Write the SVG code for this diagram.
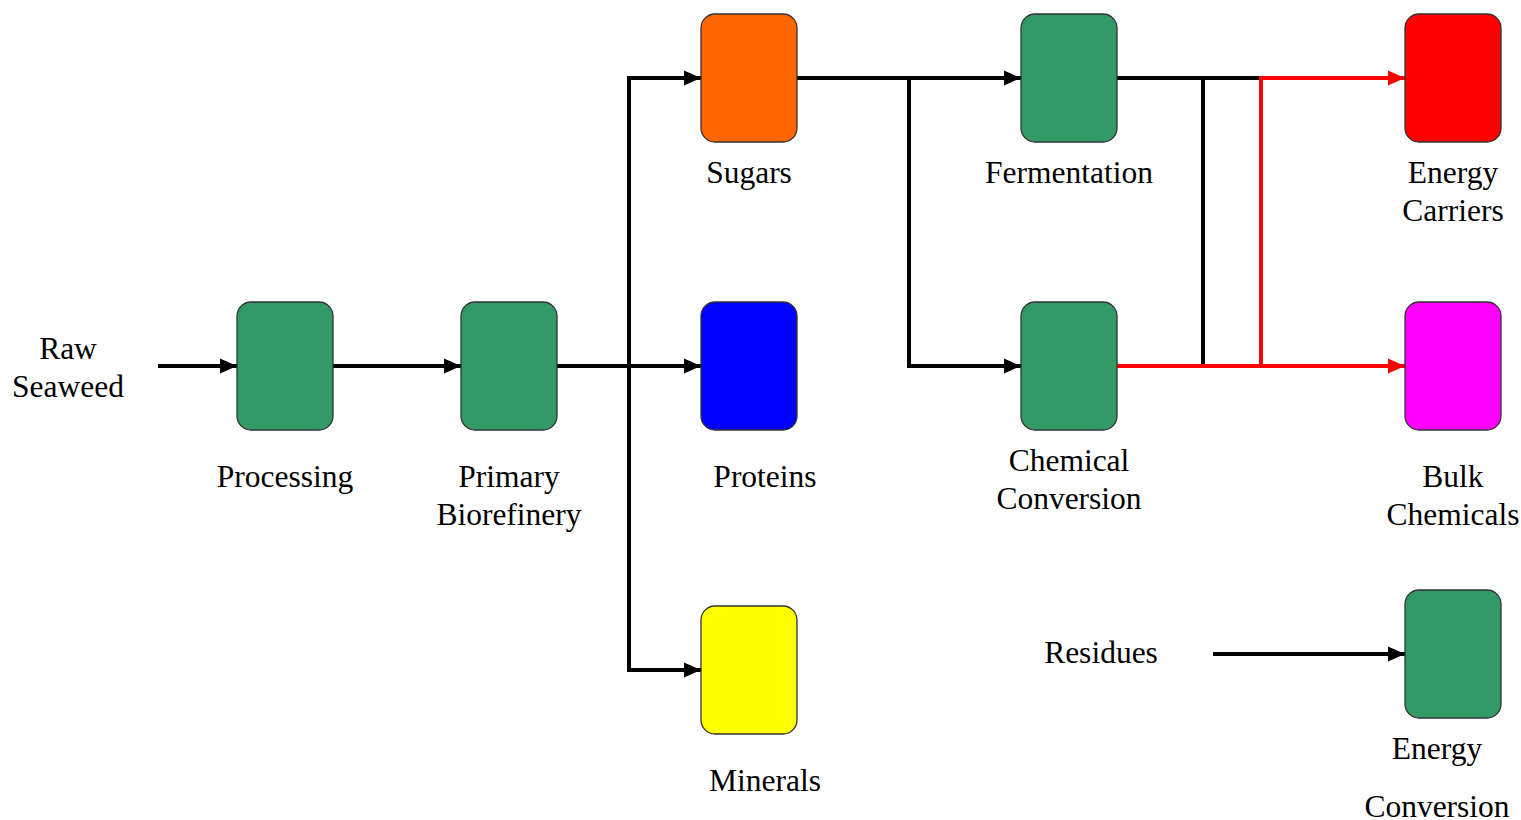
<svg xmlns="http://www.w3.org/2000/svg" width="1521" height="820" viewBox="0 0 1521 820">
<style>
.box{stroke:#333;stroke-width:1.3}
.ln{fill:none;stroke:#000;stroke-width:4}
.rd{fill:none;stroke:#FF0000;stroke-width:4}
text{font-family:"Liberation Serif","Times New Roman",serif;font-size:31.5px;fill:#000;text-anchor:middle}
</style>
<defs>
<marker id="ab" markerUnits="userSpaceOnUse" markerWidth="17" markerHeight="17" viewBox="0 0 17 17" refX="17" refY="8.5" orient="auto"><path d="M0,1 L17,8.5 L0,16 Z" fill="#000"/></marker>
<marker id="ar" markerUnits="userSpaceOnUse" markerWidth="17" markerHeight="17" viewBox="0 0 17 17" refX="17" refY="8.5" orient="auto"><path d="M0,1 L17,8.5 L0,16 Z" fill="#FF0000"/></marker>
</defs>
<rect width="1521" height="820" fill="#fff"/>
<g id="connectors">
<path class="ln" d="M158,366 H237" marker-end="url(#ab)"/>
<path class="ln" d="M333,366 H461" marker-end="url(#ab)"/>
<path class="ln" d="M557,366 H701" marker-end="url(#ab)"/>
<path class="ln" d="M701,78 H629 V670 H701" marker-end="url(#ab)"/>
<path class="ln" d="M629,78 H701" marker-end="url(#ab)"/>
<path class="ln" d="M797,78 H1021" marker-end="url(#ab)"/>
<path class="ln" d="M909,78 V366 H1021" marker-end="url(#ab)"/>
<path class="ln" d="M1117,78 H1260"/>
<path class="ln" d="M1203,78 V366"/>
<path class="rd" d="M1117,366 H1405" marker-end="url(#ar)"/>
<path class="rd" d="M1261,366 V78 H1405" marker-end="url(#ar)"/>
<path class="ln" d="M1213,654 H1405" marker-end="url(#ab)"/>
</g>
<g id="raw-seaweed"><text x="68" y="359">Raw</text><text x="68" y="397">Seaweed</text></g>
<g id="processing"><rect class="box" x="237" y="302" width="96" height="128" rx="14" fill="#339966"/><text x="285" y="487">Processing</text></g>
<g id="primary-biorefinery"><rect class="box" x="461" y="302" width="96" height="128" rx="14" fill="#339966"/><text x="509" y="487">Primary</text><text x="509" y="525">Biorefinery</text></g>
<g id="sugars"><rect class="box" x="701" y="14" width="96" height="128" rx="14" fill="#FF6600"/><text x="749" y="183">Sugars</text></g>
<g id="proteins"><rect class="box" x="701" y="302" width="96" height="128" rx="14" fill="#0000FF"/><text x="765" y="487">Proteins</text></g>
<g id="minerals"><rect class="box" x="701" y="606" width="96" height="128" rx="14" fill="#FFFF00"/><text x="765" y="791">Minerals</text></g>
<g id="fermentation"><rect class="box" x="1021" y="14" width="96" height="128" rx="14" fill="#339966"/><text x="1069" y="183">Fermentation</text></g>
<g id="chemical-conversion"><rect class="box" x="1021" y="302" width="96" height="128" rx="14" fill="#339966"/><text x="1069" y="471">Chemical</text><text x="1069" y="509">Conversion</text></g>
<g id="energy-carriers"><rect class="box" x="1405" y="14" width="96" height="128" rx="14" fill="#FF0000"/><text x="1453" y="183">Energy</text><text x="1453" y="221">Carriers</text></g>
<g id="bulk-chemicals"><rect class="box" x="1405" y="302" width="96" height="128" rx="14" fill="#FF00FF"/><text x="1453" y="487">Bulk</text><text x="1453" y="525">Chemicals</text></g>
<g id="residues"><text x="1101" y="663">Residues</text></g>
<g id="energy-conversion"><rect class="box" x="1405" y="590" width="96" height="128" rx="14" fill="#339966"/><text x="1437" y="759">Energy</text><text x="1437" y="817">Conversion</text></g>
</svg>
